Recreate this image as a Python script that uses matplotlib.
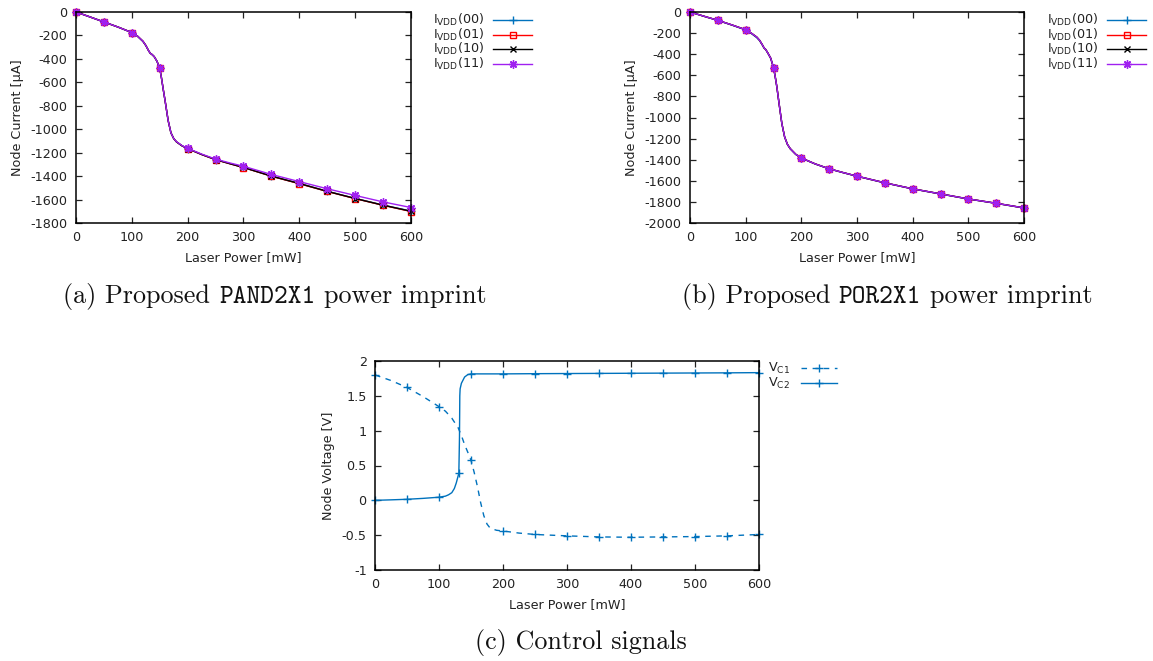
import matplotlib
matplotlib.use("Agg")
import matplotlib.pyplot as plt
from matplotlib.lines import Line2D
from matplotlib.ticker import FuncFormatter, MultipleLocator
from matplotlib.offsetbox import TextArea, HPacker, AnchoredOffsetbox

# ---------------- data ----------------
# (a) PAND2X1 supply current vs laser power
power_a = [0, 25, 50, 75, 100, 110, 120, 125, 130, 133, 136, 140, 145, 150, 153, 156,
           160, 165, 170, 175, 180, 190, 200, 225, 250, 275, 300, 350, 400, 450, 500, 550, 600]
and_00 = [0, -42, -85, -128, -176, -206, -252, -286, -330, -352, -362, -381, -420, -481, -560, -655,
          -772, -925, -1030, -1080, -1108, -1142, -1166, -1216, -1259, -1293, -1326, -1400, -1463, -1529, -1590, -1647, -1698]
and_01 = [0, -42, -85, -128, -175, -205, -250, -285, -330, -352, -362, -380, -420, -480, -560, -652,
          -770, -925, -1030, -1080, -1108, -1142, -1166, -1216, -1260, -1294, -1327, -1401, -1465, -1531, -1592, -1649, -1702]
and_10 = [0, -42, -85, -128, -175, -205, -250, -285, -330, -352, -362, -380, -420, -480, -560, -652,
          -770, -925, -1030, -1080, -1108, -1142, -1165, -1215, -1259, -1293, -1326, -1400, -1463, -1530, -1591, -1648, -1700]
and_11 = [0, -42, -85, -128, -175, -205, -250, -285, -330, -352, -362, -380, -420, -480, -560, -652,
          -770, -925, -1030, -1080, -1106, -1140, -1163, -1212, -1255, -1287, -1316, -1386, -1447, -1508, -1565, -1620, -1668]

# (b) POR2X1 supply current vs laser power
power_b = power_a
or_00 = [0, -41, -80, -124, -170, -204, -244, -272, -314, -342, -357, -391, -440, -528, -612, -712,
         -868, -1058, -1185, -1255, -1296, -1350, -1385, -1441, -1487, -1523, -1557, -1620, -1677, -1725, -1773, -1814, -1858]
or_01 = [0, -40, -79, -122, -168, -200, -238, -268, -311, -340, -355, -390, -438, -527, -610, -708,
         -867, -1057, -1184, -1254, -1295, -1349, -1384, -1440, -1486, -1522, -1556, -1619, -1676, -1724, -1772, -1813, -1857]
or_10 = [0, -40, -79, -122, -168, -200, -238, -268, -311, -340, -355, -390, -438, -527, -610, -708,
         -867, -1057, -1184, -1254, -1295, -1349, -1384, -1440, -1486, -1522, -1556, -1619, -1676, -1724, -1772, -1813, -1857]
or_11 = [0, -40, -79, -122, -168, -200, -238, -268, -311, -340, -355, -390, -438, -527, -610, -708,
         -867, -1057, -1184, -1254, -1295, -1349, -1384, -1440, -1486, -1522, -1556, -1619, -1676, -1724, -1772, -1813, -1857]

# (c) control node voltages
power_c1 = [0, 25, 50, 75, 100, 110, 120, 125, 130, 135, 140, 145, 150, 155, 160, 165, 170,
            175, 180, 190, 200, 225, 250, 300, 350, 400, 450, 500, 550, 600]
v_c1 = [1.80, 1.72, 1.62, 1.49, 1.345, 1.28, 1.18, 1.11, 1.04, 0.93, 0.80, 0.69, 0.575, 0.40, 0.20,
        -0.03, -0.22, -0.34, -0.40, -0.43, -0.44, -0.47, -0.49, -0.51, -0.525, -0.53, -0.525, -0.52, -0.51, -0.49]
power_c2 = [0, 25, 50, 75, 100, 110, 115, 120, 124, 127, 129, 131, 132, 132.5, 133, 135, 140,
            145, 150, 200, 250, 300, 350, 400, 450, 500, 550, 600]
v_c2 = [0.0, 0.007, 0.015, 0.028, 0.045, 0.06, 0.08, 0.11, 0.17, 0.25, 0.32, 0.39, 0.90, 1.50, 1.60,
        1.68, 1.77, 1.805, 1.815, 1.815, 1.818, 1.82, 1.822, 1.824, 1.826, 1.828, 1.83, 1.833]

marks_ab = [0, 50, 100, 150, 200, 250, 300, 350, 400, 450, 500, 550, 600]
marks_c1 = [0, 50, 100, 150, 200, 250, 300, 350, 400, 450, 500, 550, 600]
marks_c2 = [0, 50, 100, 131, 150, 200, 250, 300, 350, 400, 450, 500, 550, 600]

gate_labels = [r"$\mathrm{I}_{\mathrm{VDD}}\mathrm{(00)}$", r"$\mathrm{I}_{\mathrm{VDD}}\mathrm{(01)}$",
               r"$\mathrm{I}_{\mathrm{VDD}}\mathrm{(10)}$", r"$\mathrm{I}_{\mathrm{VDD}}\mathrm{(11)}$"]
ctrl_labels = [r"$\mathrm{V}_{\mathrm{C1}}$", r"$\mathrm{V}_{\mathrm{C2}}$"]

captions = [
    [("(a) Proposed", "cmr10"), ("PAND2X1", "cmtt10"), ("power imprint", "cmr10")],
    [("(b) Proposed", "cmr10"), ("POR2X1", "cmtt10"), ("power imprint", "cmr10")],
    [("(c) Control signals", "cmr10")],
]

# ---------------- styling ----------------
BLUE = "#0072bd"
RED = "#ff0000"
BLACK = "#000000"
PURPLE = "#a020f0"
gate_styles = [
    dict(color=BLUE, marker="+", ms=6, mew=1.0, mfc="none"),
    dict(color=RED, marker="s", ms=5, mew=1.0, mfc="none"),
    dict(color=BLACK, marker="x", ms=5, mew=1.0, mfc="none"),
    dict(color=PURPLE, marker=(8, 2, 0), ms=6, mew=1.0, mfc="none"),
]

plt.rcParams["font.family"] = ["DejaVu Sans"]
plt.rcParams["axes.unicode_minus"] = False
TICK_FS = 9.2
CAP_FS = 18.8

W, H = 1153, 661
fig = plt.figure(figsize=(W / 100, H / 100), dpi=100)


def px_rect(left, top, right, bottom):
    return [left / W, 1 - bottom / H, (right - left) / W, (bottom - top) / H]


def fx(x):
    return x / W


def fy(y):
    return 1 - y / H


def style_axes(ax, ylim, ystep, ylabel):
    ax.set_xlim(0, 600)
    ax.set_ylim(*ylim)
    ax.xaxis.set_major_locator(MultipleLocator(100))
    ax.yaxis.set_major_locator(MultipleLocator(ystep))
    fmt = FuncFormatter(lambda v, p: "%g" % (round(v, 6) + 0.0))
    ax.yaxis.set_major_formatter(fmt)
    ax.xaxis.set_major_formatter(fmt)
    ax.tick_params(direction="in", top=True, right=True, length=4.5, width=0.9,
                   labelsize=TICK_FS, pad=6, colors="#222222", labelcolor="#222222")
    for s in ax.spines.values():
        s.set_linewidth(1.1)
    ax.set_xlabel("Laser Power [mW]", fontsize=TICK_FS, labelpad=5, color="#222222")
    ax.set_ylabel(ylabel, fontsize=TICK_FS, labelpad=5, color="#222222")


def marker_idx(xs, marks):
    return [i for i, x in enumerate(xs) if x in marks]


def draw_key(entries, x_text, x0, x1, ys):
    for (label, kw, ls), y in zip(entries, ys):
        fig.text(fx(x_text), fy(y), label, ha="right", va="center",
                 fontsize=TICK_FS, color="#222222")
        ln = Line2D([fx(x0), fx((x0 + x1) / 2), fx(x1)], [fy(y)] * 3,
                    transform=fig.transFigure, lw=1.0, ls=ls, markevery=[1], **kw)
        fig.add_artist(ln)


def gate_panel(rect, xs, series, ylim, key_x):
    ax = fig.add_axes(rect)
    idx = marker_idx(xs, marks_ab)
    for ys, kw in zip(series, gate_styles):
        ax.plot(xs, ys, lw=1.0, markevery=idx, clip_on=False, **kw)
    style_axes(ax, ylim, 200, "Node Current [µA]")
    draw_key([(l, k, "-") for l, k in zip(gate_labels, gate_styles)],
             key_x, key_x + 9, key_x + 48, [20, 34.5, 49, 63.5])
    return ax


def caption(cx, cy, parts):
    boxes = [TextArea(s, textprops=dict(fontsize=CAP_FS, family=f, color="#111111"))
             for s, f in parts]
    pack = HPacker(children=boxes, align="baseline", pad=0, sep=CAP_FS * 0.333)
    box = AnchoredOffsetbox(loc="center", child=pack, bbox_to_anchor=(fx(cx), fy(cy)),
                            bbox_transform=fig.transFigure, frameon=False, pad=0, borderpad=0)
    fig.add_artist(box)


ax_a = gate_panel(px_rect(76, 12, 411, 223), power_a, [and_00, and_01, and_10, and_11],
                  (-1800, 0), 484)
ax_b = gate_panel(px_rect(690, 12, 1024, 223), power_b, [or_00, or_01, or_10, or_11],
                  (-2000, 0), 1098)

ax_c = fig.add_axes(px_rect(375, 361, 759, 570))
c_kw = dict(color=BLUE, marker="+", ms=6, mew=1.0)
ax_c.plot(power_c1, v_c1, lw=1.0, ls=(0, (4, 4)), markevery=marker_idx(power_c1, marks_c1),
          clip_on=False, **c_kw)
ax_c.plot(power_c2, v_c2, lw=1.0, ls="-", markevery=marker_idx(power_c2, marks_c2),
          clip_on=False, **c_kw)
style_axes(ax_c, (-1, 2), 0.5, "Node Voltage [V]")
draw_key([(ctrl_labels[0], c_kw, (0, (4, 4))), (ctrl_labels[1], c_kw, "-")],
         790, 801, 837, [368, 383])

# sub-figure captions
caption(275, 297, captions[0])
caption(887, 297, captions[1])
caption(581, 642, captions[2])

fig.savefig("out.png", dpi=100)
